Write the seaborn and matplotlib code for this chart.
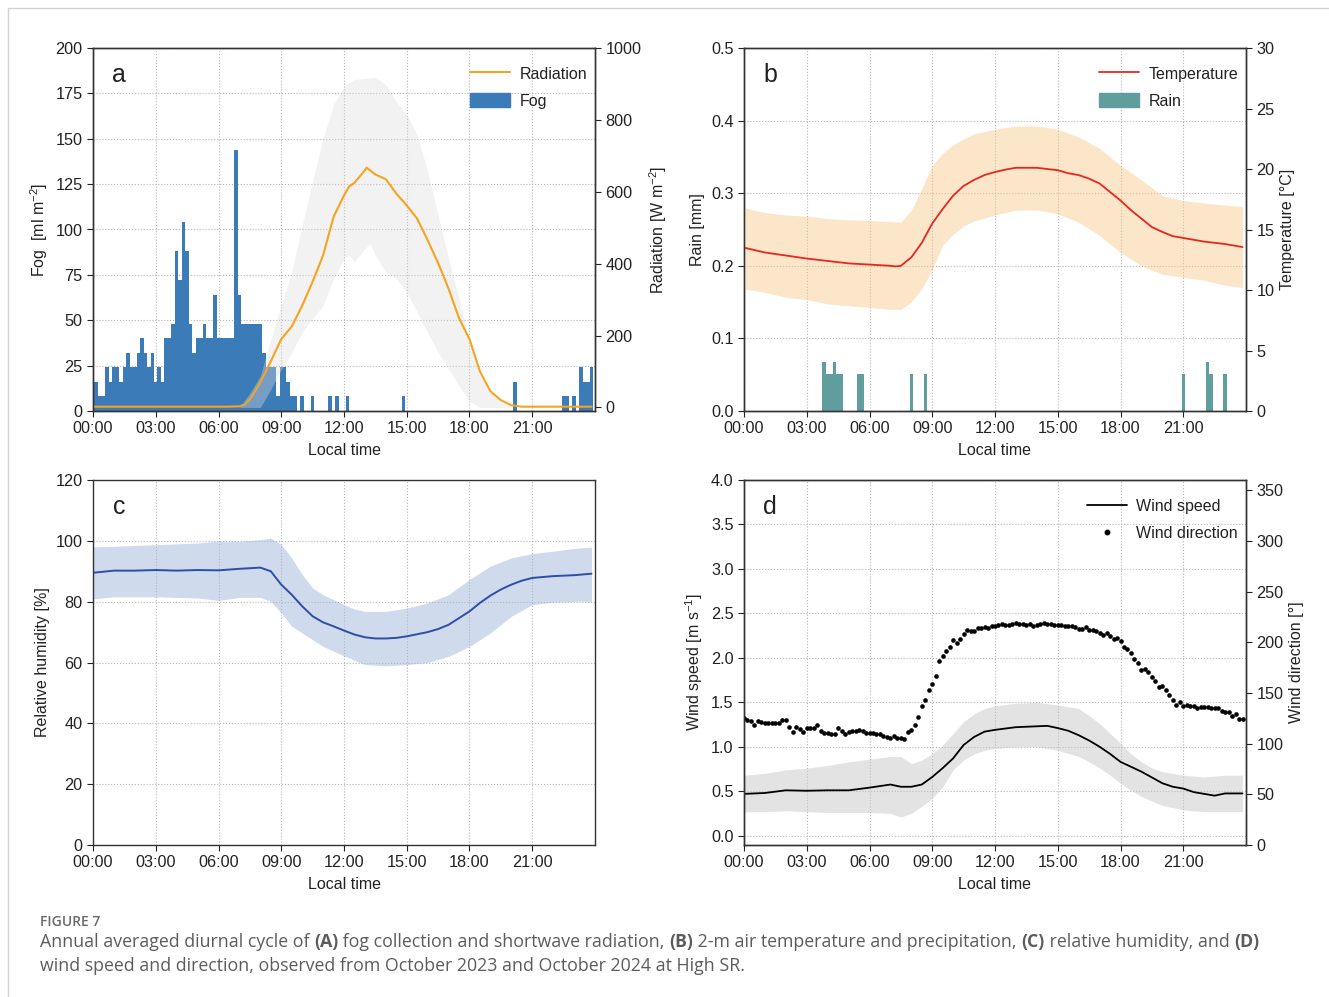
import numpy as np
import matplotlib
matplotlib.use("Agg")
import matplotlib.pyplot as plt
import seaborn as sns
from matplotlib.ticker import FuncFormatter, MultipleLocator
from matplotlib.patches import Patch
from matplotlib.lines import Line2D
from matplotlib.font_manager import FontProperties

# ---------------- data ----------------
# fog collection, 10-min bins starting 00:00 [ml m-2]
fog = [16, 16, 8, 8, 24, 16, 24, 24, 16, 24, 32, 24,
       24, 32, 40, 32, 24, 32, 16, 24, 16, 40, 40, 48,
       88, 72, 104, 88, 48, 32, 40, 40, 48, 40, 40, 64,
       40, 40, 40, 40, 40, 144, 64, 48, 48, 48, 48, 48,
       48, 32, 24, 24, 24, 8, 24, 24, 16, 8, 8, 0,
       8, 0, 0, 8, 0, 0, 0, 0, 8, 0, 8, 0,
       0, 8, 0, 0, 0, 0, 0, 0, 0, 0, 0, 0,
       0, 0, 0, 0, 0, 8, 0, 0, 0, 0, 0, 0,
       0, 0, 0, 0, 0, 0, 0, 0, 0, 0, 0, 0,
       0, 0, 0, 0, 0, 0, 0, 0, 0, 0, 0, 0,
       0, 16, 0, 0, 0, 0, 0, 0, 0, 0, 0, 0,
       0, 0, 0, 8, 8, 0, 8, 0, 24, 16, 16, 24]

rad_t = ["00:00", "06:30", "07:00", "07:15", "07:30", "07:45", "08:00", "08:30", "09:00",
         "09:30", "10:00", "10:30", "11:00", "11:30", "12:00", "12:15", "12:30", "13:00",
         "13:05", "13:30", "14:00", "14:30", "15:00", "15:30", "16:00", "16:30", "17:00",
         "17:30", "18:00", "18:30", "19:00", "19:30", "20:00", "20:30", "23:50"]
rad = [2, 2, 3, 8, 22, 45, 70, 128, 190, 225, 283, 350, 423, 530, 590, 615, 625, 660,
       667, 648, 635, 595, 562, 525, 465, 402, 330, 248, 190, 100, 45, 20, 6, 2, 2]

radband_t = ["07:00", "07:30", "08:00", "08:30", "09:00", "09:30", "10:00", "10:30", "11:00",
             "11:30", "12:00", "12:15", "12:30", "13:00", "13:15", "13:30", "14:00", "14:30",
             "15:00", "15:30", "16:00", "16:30", "17:00", "17:30", "18:00", "18:30", "19:00",
             "19:30", "20:00"]
rad_hi = [0, 40, 88, 190, 284, 377, 507, 628, 749, 842, 893, 903, 912, 916, 917, 918, 898,
          851, 814, 758, 656, 535, 414, 302, 181, 88, 42, 14, 0]
rad_lo = [0, 0, 0, 50, 105, 153, 209, 247, 284, 358, 414, 423, 405, 442, 456, 423, 377, 358,
          321, 265, 209, 153, 107, 60, 17, 0, 0, 0, 0]

rain_t = ["03:50", "04:00", "04:10", "04:20", "04:30", "04:40", "05:30", "05:40", "08:00",
          "08:40", "21:00", "22:10", "22:20", "23:00"]
rain = [0.068, 0.051, 0.051, 0.068, 0.051, 0.051, 0.051, 0.051, 0.051, 0.051, 0.051,
        0.068, 0.051, 0.051]

temp_t = ["00:00", "01:00", "02:00", "03:00", "04:00", "05:00", "06:00", "07:00", "07:15",
          "07:30", "08:00", "08:30", "09:00", "09:30", "10:00", "10:30", "11:00", "11:30",
          "12:00", "12:30", "13:00", "14:00", "15:00", "15:30", "16:00", "16:30", "17:00",
          "17:30", "18:00", "18:30", "19:00", "19:30", "20:00", "20:30", "21:00", "22:00",
          "23:00", "23:50"]
temp = [13.5, 13.1, 12.85, 12.6, 12.4, 12.2, 12.1, 12.0, 11.95, 12.0, 12.7, 13.9, 15.5,
        16.7, 17.8, 18.6, 19.1, 19.5, 19.75, 19.95, 20.1, 20.1, 19.9, 19.65, 19.5, 19.2,
        18.8, 18.1, 17.4, 16.6, 15.9, 15.2, 14.8, 14.45, 14.3, 14.0, 13.8, 13.55]

tband_t = ["00:00", "01:00", "02:00", "03:00", "04:00", "05:00", "06:00", "07:00", "07:30",
           "08:00", "08:30", "09:00", "09:30", "10:00", "10:30", "11:00", "12:00", "13:00",
           "14:00", "15:00", "16:00", "17:00", "18:00", "19:00", "20:00", "21:00", "22:00",
           "23:00", "23:50"]
temp_hi = [16.8, 16.4, 16.2, 16.1, 15.9, 15.8, 15.75, 15.65, 15.6, 16.6, 18.4, 20.3, 21.3,
           22.0, 22.5, 22.9, 23.3, 23.55, 23.55, 23.3, 22.65, 21.7, 20.3, 19.1, 17.8, 17.4,
           17.2, 17.0, 16.9]
temp_lo = [10.1, 9.8, 9.4, 9.2, 8.85, 8.7, 8.55, 8.4, 8.4, 9.0, 10.1, 11.7, 13.7, 14.6,
           15.3, 15.7, 16.2, 16.6, 16.6, 16.3, 15.6, 14.5, 13.1, 12.0, 11.3, 11.05, 10.8,
           10.4, 10.2]

rh_t = ["00:00", "01:00", "02:00", "03:00", "04:00", "05:00", "06:00", "07:00", "08:00",
        "08:30", "09:00", "09:30", "10:00", "10:30", "11:00", "11:30", "12:00", "12:30",
        "13:00", "13:30", "14:00", "14:30", "15:00", "15:30", "16:00", "16:30", "17:00",
        "17:30", "18:00", "18:30", "19:00", "19:30", "20:00", "20:30", "21:00", "22:00",
        "23:00", "23:50"]
rh = [89.5, 90.2, 90.2, 90.4, 90.2, 90.4, 90.3, 90.8, 91.2, 90.0, 85.6, 82.3, 78.5, 75.2,
      73.2, 71.9, 70.5, 69.2, 68.3, 67.9, 67.9, 68.1, 68.6, 69.3, 70.0, 71.0, 72.4, 74.6,
      76.8, 79.6, 82.0, 84.0, 85.6, 86.9, 87.8, 88.4, 88.7, 89.2]

rhband_t = ["00:00", "01:00", "02:00", "03:00", "04:00", "05:00", "06:00", "07:00", "08:00",
            "08:30", "09:00", "09:30", "10:00", "10:30", "11:00", "11:30", "12:00", "12:30",
            "13:00", "14:00", "15:00", "16:00", "17:00", "18:00", "19:00", "20:00", "21:00",
            "22:00", "23:00", "23:50"]
rh_hi = [98.0, 98.2, 98.5, 98.7, 99.0, 99.3, 99.9, 99.9, 100.4, 100.9, 98.8, 94.4, 88.9,
         84.5, 82.3, 80.7, 79.0, 77.6, 76.8, 76.8, 77.9, 79.6, 82.3, 87.3, 91.7, 94.4, 95.8,
         96.6, 97.5, 98.0]
rh_lo = [80.9, 81.6, 81.6, 81.6, 81.4, 81.2, 80.4, 81.4, 81.4, 80.1, 76.3, 71.9, 69.7, 67.5,
         65.3, 63.7, 62.2, 60.7, 59.3, 58.9, 59.3, 60.0, 62.0, 65.3, 69.7, 75.2, 79.0, 79.8,
         80.1, 80.1]

ws_t = ["00:00", "01:00", "02:00", "03:00", "04:00", "05:00", "06:00", "07:00", "07:30",
        "08:00", "08:30", "09:00", "09:30", "10:00", "10:30", "11:00", "11:30", "12:00",
        "13:00", "14:00", "14:30", "15:00", "15:30", "16:00", "16:30", "17:00", "17:30",
        "18:00", "19:00", "20:00", "20:30", "21:00", "21:30", "22:00", "22:30", "23:00",
        "23:50"]
ws = [0.47, 0.48, 0.51, 0.505, 0.51, 0.51, 0.54, 0.575, 0.55, 0.55, 0.575, 0.66, 0.76, 0.87,
      1.02, 1.11, 1.17, 1.19, 1.22, 1.23, 1.235, 1.21, 1.18, 1.13, 1.07, 1.0, 0.92, 0.83,
      0.72, 0.59, 0.55, 0.53, 0.49, 0.47, 0.45, 0.475, 0.475]

wsband_t = ["00:00", "01:00", "02:00", "03:00", "04:00", "05:00", "06:00", "07:00", "07:30",
            "08:00", "08:30", "09:00", "09:30", "10:00", "10:30", "11:00", "11:30", "12:00",
            "13:00", "14:00", "15:00", "16:00", "16:30", "17:00", "17:30", "18:00", "18:30",
            "19:00", "19:30", "20:00", "21:00", "22:00", "23:00", "23:50"]
ws_hi = [0.68, 0.70, 0.74, 0.76, 0.79, 0.83, 0.86, 0.89, 0.89, 0.81, 0.85, 0.92, 1.02, 1.15,
         1.28, 1.37, 1.43, 1.46, 1.49, 1.50, 1.47, 1.43, 1.35, 1.26, 1.15, 1.04, 0.92, 0.83,
         0.76, 0.72, 0.68, 0.66, 0.68, 0.68]
ws_lo = [0.27, 0.27, 0.28, 0.27, 0.26, 0.26, 0.26, 0.25, 0.21, 0.25, 0.33, 0.42, 0.55, 0.74,
         0.85, 0.92, 0.96, 0.98, 1.0, 1.0, 0.96, 0.89, 0.83, 0.76, 0.68, 0.59, 0.51, 0.44,
         0.39, 0.34, 0.29, 0.27, 0.27, 0.27]

# wind direction, 10-min values starting 00:00 [deg]
wdir = [125, 123, 122, 118, 122, 121, 120, 120, 120, 120, 120, 123,
        123, 116, 111, 116, 114, 111, 115, 115, 115, 118, 112, 110,
        110, 109, 109, 115, 112, 109, 111, 112, 112, 113, 112, 110,
        110, 110, 109, 109, 108, 107, 106, 108, 106, 106, 105, 111,
        113, 118, 126, 137, 143, 153, 159, 167, 181, 186, 191, 195,
        202, 199, 203, 208, 212, 211, 211, 214, 214, 215, 214, 216,
        216, 217, 218, 217, 217, 217.5, 218.5, 218, 218, 217, 217.5, 216,
        217, 218, 219, 217.5, 217.5, 217, 217, 217, 216, 216, 216, 215,
        213, 213.5, 215, 212.5, 212, 211, 209, 207, 209, 206, 203, 204,
        201, 195, 193.5, 189.5, 183, 180, 173, 174, 171, 166, 161.5, 156,
        156.5, 152.5, 148, 143.5, 138.5, 141.5, 137.5, 138, 137.5, 137.5, 135.5, 136,
        136, 136, 135, 135, 135, 132, 131, 131, 127, 129, 124.6, 124]


def hours(times):
    return [int(t[:2]) + int(t[3:]) / 60 for t in times]


ten_min = np.arange(len(fog)) / 6

# ---------------- style ----------------
sns.set_theme(style="ticks")
plt.rcParams.update({
    "font.family": ["Liberation Sans", "DejaVu Sans"],
    "mathtext.fontset": "custom",
    "mathtext.rm": "Liberation Sans",
    "mathtext.it": "Liberation Sans:italic",
    "mathtext.bf": "Liberation Sans:bold",
    "axes.labelsize": 11.5,
    "xtick.labelsize": 11.7,
    "ytick.labelsize": 11.7,
    "legend.fontsize": 11.5,
    "axes.linewidth": 1.0,
    "axes.edgecolor": "#333333",
    "xtick.major.size": 4,
    "ytick.major.size": 4,
    "xtick.major.width": 0.8,
    "ytick.major.width": 0.8,
    "xtick.color": "#222222",
    "ytick.color": "#222222",
    "axes.labelcolor": "#222222",
    "text.color": "#222222",
})

FOG_C = "#3b7bb8"
RAD_C = "#f5a321"
RAIN_C = "#5f9e9c"
TEMP_C = "#e8261f"
RH_C = "#2d4ea6"

W, H = 1329, 997
fig = plt.figure(figsize=(W / 100, H / 100), dpi=100)


def rect(l, t, r, b):
    return [l / W, 1 - b / H, (r - l) / W, (b - t) / H]


def time_axis(ax):
    ax.set_xlim(0, 24)
    ax.set_xticks(range(0, 24, 3))
    ax.xaxis.set_major_formatter(FuncFormatter(lambda v, p: f"{int(v):02d}:00"))
    ax.set_xlabel("Local time", labelpad=5)
    ax.grid(True, ls=":", lw=0.8, color="#b5b5b5")


def letter(ax, s):
    ax.text(0.052, 0.925, s, transform=ax.transAxes, fontsize=18, va="center", ha="center")


leg_kw = dict(loc="upper right", bbox_to_anchor=(0.997, 0.967), frameon=False,
              handlelength=2.5, handleheight=0.9, handletextpad=0.6, labelspacing=0.75,
              borderaxespad=0)

# --- a: fog + radiation ---
ax = fig.add_axes(rect(93, 48, 595, 411))
ax.bar(ten_min, fog, width=1 / 6, color=FOG_C, linewidth=0, align="center", zorder=2)
ax.set_ylim(0, 200)
ax.yaxis.set_major_locator(MultipleLocator(25))
ax.set_ylabel(r"Fog  [ml m$^{-2}$]")
time_axis(ax)
ax2 = ax.twinx()
ax2.fill_between(hours(radband_t), rad_lo, rad_hi, color="#dcdcdc", alpha=0.37, linewidth=0)
sns.lineplot(x=hours(rad_t), y=rad, ax=ax2, color=RAD_C, linewidth=1.5, legend=False)
ax2.set_ylim(-10, 1000)
ax2.yaxis.set_major_locator(MultipleLocator(200))
ax2.set_ylabel(r"Radiation [W m$^{-2}$]")
ax2.grid(False)
ax.set_xlim(0, 24)
letter(ax, "a")
ax2.legend([Line2D([], [], color=RAD_C, lw=1.5), Patch(color=FOG_C)], ["Radiation", "Fog"], **leg_kw)

# --- b: rain + temperature ---
ax = fig.add_axes(rect(744, 48, 1246, 411))
ax.bar(hours(rain_t), rain, width=1 / 6, color=RAIN_C, linewidth=0, align="center", zorder=2)
ax.set_ylim(0, 0.5)
ax.yaxis.set_major_locator(MultipleLocator(0.1))
ax.yaxis.set_major_formatter(FuncFormatter(lambda v, p: f"{v:.1f}"))
ax.set_ylabel("Rain [mm]")
time_axis(ax)
ax2 = ax.twinx()
ax2.fill_between(hours(tband_t), temp_lo, temp_hi, color="#f9c98a", alpha=0.45, linewidth=0)
sns.lineplot(x=hours(temp_t), y=temp, ax=ax2, color=TEMP_C, linewidth=1.3, legend=False)
ax2.set_ylim(0, 30)
ax2.yaxis.set_major_locator(MultipleLocator(5))
ax2.set_ylabel("Temperature [°C]")
ax2.grid(False)
ax.set_xlim(0, 24)
letter(ax, "b")
ax2.legend([Line2D([], [], color=TEMP_C, lw=1.3), Patch(color=RAIN_C)], ["Temperature", "Rain"], **leg_kw)

# --- c: relative humidity ---
ax = fig.add_axes(rect(93, 480, 595, 845))
ax.fill_between(hours(rhband_t), rh_lo, rh_hi, color="#a3b7dc", alpha=0.5, linewidth=0)
sns.lineplot(x=hours(rh_t), y=rh, ax=ax, color=RH_C, linewidth=1.4, legend=False)
ax.set_ylim(0, 120)
ax.yaxis.set_major_locator(MultipleLocator(20))
ax.set_ylabel("Relative humidity [%]")
time_axis(ax)
letter(ax, "c")

# --- d: wind speed + direction ---
ax = fig.add_axes(rect(744, 480, 1246, 845))
ax.fill_between(hours(wsband_t), ws_lo, ws_hi, color="#c8c8c8", alpha=0.5, linewidth=0)
sns.lineplot(x=hours(ws_t), y=ws, ax=ax, color="black", linewidth=1.3, legend=False)
ax.set_ylim(-0.105, 4.0)
ax.yaxis.set_major_locator(MultipleLocator(0.5))
ax.set_ylabel(r"Wind speed [m s$^{-1}$]")
time_axis(ax)
ax2 = ax.twinx()
sns.scatterplot(x=ten_min, y=wdir, ax=ax2, color="black", s=11, linewidth=0, legend=False)
ax2.set_ylim(0, 360)
ax2.yaxis.set_major_locator(MultipleLocator(50))
ax2.set_ylim(0, 360)
ax2.set_ylabel("Wind direction [°]")
ax2.grid(False)
ax.set_xlim(0, 24)
letter(ax, "d")
ax2.legend([Line2D([], [], color="black", lw=1.3),
            Line2D([], [], color="black", marker="o", ls="none", markersize=3.2)],
           ["Wind speed", "Wind direction"], **leg_kw)

# ---------------- frame + caption ----------------
fig.add_artist(Line2D([8 / W, 1], [1 - 8 / H, 1 - 8 / H], transform=fig.transFigure,
                      color="#d2d2d2", lw=1))
fig.add_artist(Line2D([8 / W, 8 / W], [0, 1 - 8 / H], transform=fig.transFigure,
                      color="#d2d2d2", lw=1))

renderer = fig.canvas.get_renderer()
CAP_FONT = "Open Sans"
CAP_C = "#5c5c5c"


def piece_width(s, size, bold):
    fp = FontProperties(family=CAP_FONT, size=size, weight="bold" if bold else "normal")
    w_full = renderer.get_text_width_height_descent("|" + s + "|", fp, ismath=False)[0]
    w_bars = renderer.get_text_width_height_descent("||", fp, ismath=False)[0]
    return w_full - w_bars


def rich_line(x_px, y_px, pieces, size):
    x = x_px
    for s, bold in pieces:
        fig.text(x / W, 1 - y_px / H, s, fontsize=size, color=CAP_C, family=CAP_FONT,
                 fontweight="bold" if bold else "normal", ha="left", va="baseline")
        x += piece_width(s, size, bold)


line1 = [("Annual averaged diurnal cycle of ", False), ("(A)", True),
         (" fog collection and shortwave radiation, ", False), ("(B)", True),
         (" 2-m air temperature and precipitation, ", False), ("(C)", True),
         (" relative humidity, and ", False), ("(D)", True)]
line2 = [("wind speed and direction, observed from October 2023 and October 2024 at High SR.", False)]

base = 12.0
w0 = sum(piece_width(s, base, b) for s, b in line1)
cap_size = base * (1255 - 40) / w0

fig.text(40 / W, 1 - 926 / H, "FIGURE 7", fontsize=cap_size * 0.78, color="#6a6a6a",
         family=CAP_FONT, fontweight="semibold", ha="left", va="baseline")
rich_line(40, 947, line1, cap_size)
rich_line(40, 971, line2, cap_size)

fig.savefig("out.png", dpi=100)
